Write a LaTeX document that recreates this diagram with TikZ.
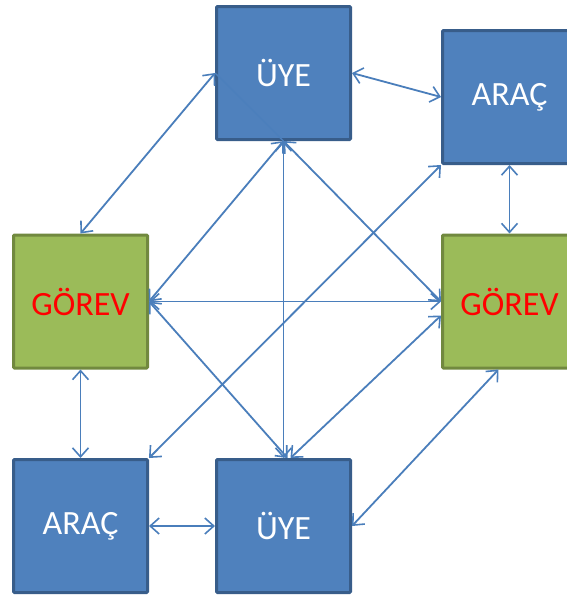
\documentclass[tikz,border=0pt]{standalone}
\usepackage{fontspec}
\setmainfont{Carlito}
\usetikzlibrary{arrows.meta,calc}
\definecolor{boxblue}{HTML}{4F81BD}
\definecolor{boxblueedge}{HTML}{385D8A}
\definecolor{boxgreen}{HTML}{9BBB59}
\definecolor{boxgreenedge}{HTML}{71893F}
\definecolor{linkblue}{HTML}{4A7EBB}
\tikzset{
  box/.style={draw, line width=3pt, inner sep=0pt, minimum width=134pt, minimum height=133pt,
    font=\fontsize{34}{38}\selectfont, rounded corners=1pt},
  bluebox/.style={box, fill=boxblue, draw=boxblueedge, text=white},
  greenbox/.style={box, fill=boxgreen, draw=boxgreenedge, text=red},
  link/.style={draw=linkblue, line width=1.8pt, {Straight Barb[length=9pt,width=16pt,line width=1.6pt]}-{Straight Barb[length=9pt,width=16pt,line width=1.6pt]}}
}
\begin{document}
\begin{tikzpicture}[x=1pt,y=-1pt]
\path[use as bounding box, clip] (0,0) rectangle (567,597);
\fill[white] (0,0) rectangle (567,597);
\node[bluebox] (U1) at (283.5,73) {ÜYE};
\node[bluebox] (A1) at (509.5,97) {ARAÇ};
\node[greenbox] (G1) at (80.5,301.5) {GÖREV};
\node[greenbox] (G2) at (509.5,301.5) {GÖREV};
\node[bluebox] (A2) at (80.5,526) {ARAÇ};
\node[bluebox] (U2) at (283.5,526) {ÜYE};
\coordinate (G2b) at ($(G2.south)+(-11,0)$);
\coordinate (G2w2) at ($(G2.west)+(0,14)$);
\coordinate (U2n2) at ($(U2.north)+(4,0)$);
\coordinate (U2n3) at ($(U2.north)+(7,0)$);
\draw[draw=linkblue!70!boxblue, line width=1.4pt] (U1.west) -- (U1.south);
\draw[link] (U1.west) -- (G1.north);
\draw[link] (U1.east) -- (A1.west);
\draw[link] (A1.south) -- (G2.north);
\draw[link] (G1.south) -- (A2.north);
\draw[link] (A2.east) -- (U2.west);
\draw[link] (U2.east) -- (G2b);
\draw[link] (G1.east) -- (G2.west);
\draw[link] (U1.south) -- (G1.east);
\draw[link] (U1.south) -- (G2.west);
\draw[link] (U1.south) -- (U2.north);
\draw[link] (A1.south west) -- (A2.north east);
\draw[link] (G1.east) -- (U2n2);
\draw[link] (G2w2) -- (U2n3);
\end{tikzpicture}
\end{document}
